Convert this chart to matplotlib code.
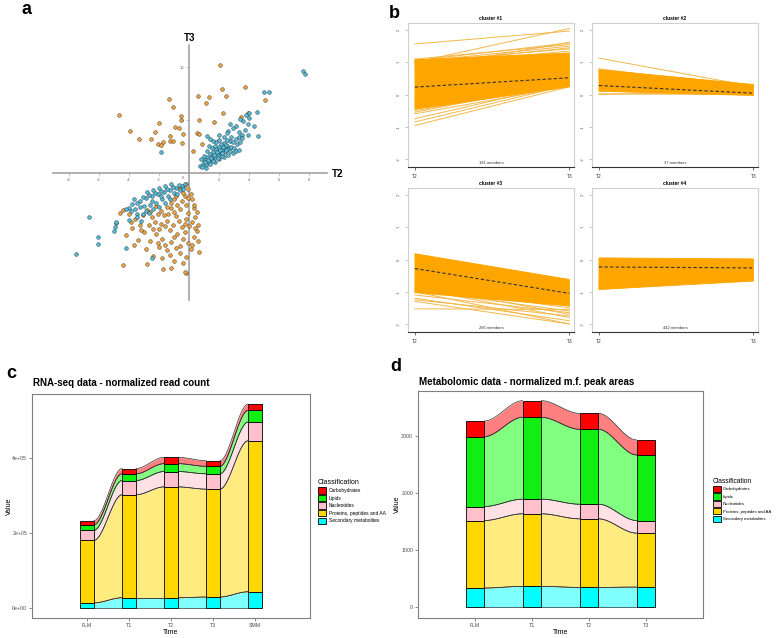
import numpy as np
import matplotlib
matplotlib.use('Agg')
import matplotlib.pyplot as plt
from matplotlib.patches import Patch

plt.rcParams['font.family'] = ['Liberation Sans', 'DejaVu Sans']

# ---------------- Panel a data (T2 vs T3) ----------------
a_orange = [
    (2.09, 10.25), (2.22, 7.9), (3.76, 8.1), (0.62, 7.3), (1.31, 7.2), (2.49, 7.3), (1.11, 6.6),
    (-1.36, 7.0), (-1.07, 6.2), (-4.69, 5.5), (-3.91, 4.0), (-3.33, 3.2), (-2.24, 3.9), (-1.98, 4.7),
    (-0.56, 5.4), (-0.51, 5.0), (-0.96, 4.35), (-0.67, 4.3), (-0.4, 3.7), (-1.24, 3.5), (-1.29, 3.0),
    (-1.07, 3.0), (-1.73, 2.97), (-2.07, 2.74), (-1.84, 2.65), (-2.56, 3.2), (-0.49, 2.84), (0.64, 5.0),
    (0.56, 3.8), (0.67, 3.7), (0.27, 2.05), (0.87, 2.74), (1.64, 4.86), (2.27, 5.68), (5.07, 6.88),
    (3.96, 5.68), (3.47, 5.3),
    (-0.2, -1.0), (-0.1, -1.5), (0.1, -2.0), (0.2, -2.5), (-0.3, -2.2), (-0.5, -2.6), (-0.2, -3.0),
    (0.3, -3.3), (0.5, -3.7), (0.4, -4.2), (0.2, -4.6), (0.6, -4.9), (0.5, -5.5), (0.3, -6.0),
    (0.6, -6.4), (0.2, -6.8), (0.64, -7.5), (0.1, -7.2), (-0.6, -3.4), (-0.8, -3.0), (-1.0, -3.7),
    (-1.2, -3.3), (-0.9, -4.1), (-0.7, -4.5), (-1.1, -4.9), (-0.5, -5.1), (-0.3, -5.6), (-0.8, -5.8),
    (-1.3, -5.4), (-1.5, -4.5), (-1.7, -4.0), (-1.9, -3.6), (-2.1, -3.9), (-1.4, -3.9), (-1.6, -5.0),
    (-2.0, -5.3), (-2.3, -4.6), (-2.5, -4.2), (-2.7, -4.9), (-2.2, -5.8), (-1.8, -6.2), (-1.2, -6.5),
    (-0.6, -6.9), (-0.4, -6.2), (-0.9, -7.1), (-1.5, -7.3), (-2.0, -7.0), (-2.6, -6.4), (-3.0, -5.6),
    (-3.3, -4.9), (-3.6, -4.3), (-3.8, -5.2), (-4.2, -5.9), (-3.4, -6.3), (-2.9, -7.2), (-2.4, -7.8),
    (-1.8, -8.0), (-1.0, -8.3), (-0.4, -8.5), (-0.18, -9.46), (-0.3, -9.4), (-1.2, -9.0), (-1.73, -9.05),
    (-4.42, -8.68), (-2.8, -8.6), (-3.7, -6.8), (-0.2, -7.9), (-1.0, -2.5), (-0.4, -1.9), (-1.5, -3.2),
    (-2.8, -3.5), (-3.1, -4.0), (-4.0, -3.9), (-4.4, -3.5), (-4.6, -3.8), (-3.9, -4.6), (-2.2, -3.1),
    (-0.7, -1.4), (-0.1, -3.8), (-0.2, -4.3), (0.0, -5.0), (-0.1, -6.6), (-1.3, -7.7), (-2.1, -6.6),
    (-0.35, -1.2), (-0.9, -2.2), (-1.2, -2.8), (-0.3, -4.8), (0.4, -5.2), (-0.6, -7.6), (-1.9, -4.8),
    (-2.4, -5.3), (-1.0, -6.0), (0.35, -3.0), (-0.05, -2.4), (-1.6, -6.8), (-3.2, -5.4), (-2.6, -3.7),
]
a_blue = [
    (0.7, 0.7), (0.9, 0.9), (1.0, 1.2), (1.1, 0.8), (1.2, 1.5), (1.3, 1.0), (1.4, 1.8), (1.5, 1.3),
    (1.6, 2.0), (1.7, 1.5), (1.8, 2.3), (1.9, 1.7), (2.0, 2.5), (2.1, 1.9), (2.2, 2.2), (2.3, 2.8),
    (2.4, 2.0), (2.5, 2.6), (2.6, 2.3), (2.7, 3.0), (2.8, 2.5), (2.9, 2.9), (3.0, 2.4), (3.1, 3.2),
    (3.2, 2.7), (3.3, 3.4), (3.4, 2.9), (1.0, 1.6), (1.2, 2.1), (1.5, 2.4), (1.8, 2.9), (2.0, 3.1),
    (2.3, 3.4), (1.3, 2.6), (1.6, 3.0), (1.1, 0.5), (1.4, 0.9), (1.7, 1.0), (2.0, 1.3), (2.3, 1.5),
    (2.6, 1.7), (2.9, 1.9), (3.1, 2.1), (3.3, 2.2), (0.8, 1.3), (1.9, 2.0), (2.2, 1.6), (2.5, 3.1),
    (2.7, 2.1), (1.5, 1.6), (1.7, 2.6), (2.1, 2.7), (2.4, 2.4), (2.8, 3.4), (3.5, 3.6), (3.7, 4.1),
    (3.9, 4.6), (4.0, 5.2), (3.6, 4.9), (3.4, 5.1), (3.1, 4.4), (2.9, 4.3), (2.7, 4.6), (2.6, 4.0),
    (2.5, 3.8), (3.3, 3.9), (4.3, 4.4), (4.6, 3.5), (3.9, 3.6), (3.5, 3.3), (4.5, 5.8), (4.0, 5.7),
    (3.8, 5.5), (5.0, 7.7), (5.3, 7.7), (7.6, 9.6), (7.7, 9.4), (1.2, 3.5), (2.0, 3.6), (1.4, 3.2),
    (-1.84, 1.96), (0.85, 0.6), (1.05, 1.0), (1.25, 1.25), (1.45, 1.45), (1.65, 1.7), (1.85, 1.95),
    (2.05, 2.15), (2.25, 2.45), (2.45, 2.65), (1.6, 1.15), (1.9, 1.4), (2.2, 1.85), (2.45, 2.2),
    (-0.3, -1.0), (-0.5, -1.2), (-0.7, -1.1), (-0.9, -1.4), (-1.1, -1.3), (-1.3, -1.6), (-1.5, -1.5),
    (-1.7, -1.8), (-1.9, -1.7), (-2.1, -2.0), (-2.3, -1.9), (-2.5, -2.2), (-2.7, -2.1), (-2.9, -2.4),
    (-3.1, -2.3), (-3.3, -2.6), (-3.5, -2.8), (-3.7, -2.5), (-0.6, -1.6), (-1.0, -1.9), (-1.4, -2.2),
    (-1.8, -2.5), (-2.2, -2.8), (-2.6, -3.0), (-3.0, -3.1), (-1.2, -1.0), (-1.6, -1.2), (-2.0, -1.4),
    (-2.4, -1.6), (-2.8, -1.8), (-0.8, -2.0), (-1.6, -2.8), (-2.0, -3.2), (-2.4, -3.4), (-2.9, -3.6),
    (-3.3, -3.2), (-3.6, -3.4), (-3.9, -3.6), (-4.0, -3.3), (-3.5, -3.9), (-3.1, -3.9), (-2.7, -3.8),
    (-1.3, -2.5), (-0.4, -1.5), (-1.9, -2.2), (-2.5, -2.6), (-3.8, -2.9), (-4.2, -3.4), (-4.0, -4.4),
    (-4.9, -4.7), (-4.95, -5.1), (-5.0, -5.5), (-4.85, -4.6), (-6.64, -4.13), (-6.07, -6.0),
    (-6.09, -6.75), (-7.53, -7.67), (-4.18, -7.07), (-2.47, -8.0), (-3.5, -4.2), (-3.2, -4.5),
]
a_xticks = [-8, -6, -4, -2, 2, 4, 6, 8]
a_yticks = [5, 10]

# ---------------- Panel b data (clusters, T2 -> T3) ----------------
b_titles = ['cluster #1', 'cluster #2', 'cluster #3', 'cluster #4']
b_members = ['181 members', '37 members', '286 members', '442 members']
b_yticks = [-2, -1, 0, 1, 2]
b_xlabels = ['T2', 'T3']
# dense band: (T2 low, T2 high, T3 low, T3 high)
c1_band = [-0.46, 1.08, 0.24, 1.29]
c2_band = [0.10, 0.77, -0.03, 0.31]
c3_band = [-1.03, 0.18, -1.44, -0.62]
c4_band = [-0.93, 0.05, -0.67, 0.02]
c1_start = [1.57, 1.00, 1.05, 1.10, 0.95, 1.02, -0.96, -0.85, -0.75, -0.60, -0.55, -0.50, 0.90, 1.00, 0.80, -0.30]
c1_end = [1.97, 2.05, 1.60, 1.55, 1.45, 1.50, 0.24, 0.30, 0.35, 0.26, 0.40, 0.30, 1.35, 1.42, 1.62, 0.28]
c2_start = [1.13, 0.80, 0.75, 0.00, 0.02, 0.60, 0.70]
c2_end = [0.25, 0.20, 0.30, 0.10, 0.00, 0.28, 0.05]
c3_start = [-1.53, -1.25, -1.30, -1.20, -1.10, -0.90, -0.85, -0.95, -1.00, -0.80, -0.70]
c3_end = [-1.55, -1.75, -2.00, -1.90, -1.65, -1.80, -1.50, -1.60, -2.00, -1.70, -1.45]
c4_start = [-0.93, -0.80, -0.75, 0.00, -0.70, -0.85]
c4_end = [-0.60, -0.65, -0.62, 0.00, -0.55, -0.50]
c1_mean = [0.23, 0.52]
c2_mean = [0.28, 0.04]
c3_mean = [-0.28, -1.05]
c4_mean = [-0.23, -0.26]

# ---------------- Panels c & d data ----------------
classes = ['Carbohydrates', 'Lipids', 'Nucleotides', 'Proteins, peptides and AA', 'Secondary metabolites']
rna_times = ['FLM', 'T1', 'T2', 'T3', 'SMM']
rna_secondary = [13300, 27000, 27000, 29000, 43000]
rna_proteins = [166700, 275000, 296000, 288000, 403000]
rna_nucleotides = [27000, 38000, 41000, 41000, 50000]
rna_lipids = [15000, 18000, 21000, 20000, 31000]
rna_carbs = [11000, 14000, 17000, 15000, 17000]
rna_yticks = [0, 200000, 400000]
rna_yticklabels = ['0e+00', '2e+05', '4e+05']

met_times = ['FLM', 'T1', 'T2', 'T3']
met_secondary = [338, 367, 349, 355]
met_proteins = [1182, 1270, 1200, 944]
met_nucleotides = [245, 256, 256, 221]
met_lipids = [1223, 1433, 1311, 1147]
met_carbs = [274, 291, 279, 263]
met_yticks = [0, 1000, 2000, 3000]

# ---------------- styling ----------------
W, H = 784, 638
fig = plt.figure(figsize=(W / 100, H / 100), dpi=100)


def box(l, t, r, b):
    return [l / W, 1 - b / H, (r - l) / W, (b - t) / H]


# ---------- panel a ----------
ax = fig.add_axes(box(53, 45, 327, 300))
ax.set_xlim(-9.07, 9.2)
ax.set_ylim(-12.0, 12.1)
for s in ['top', 'right']:
    ax.spines[s].set_visible(False)
ax.spines['left'].set_position(('data', 0))
ax.spines['bottom'].set_position(('data', 0))
for s in ['left', 'bottom']:
    ax.spines[s].set_color('#9a9a9a')
    ax.spines[s].set_linewidth(1.1)
ax.set_xticks(a_xticks)
ax.set_xticklabels([str(v) for v in a_xticks])
ax.set_yticks(a_yticks)
ax.set_yticklabels([str(v) for v in a_yticks])
ax.tick_params(axis='both', length=2, width=0.4, color='#9a9a9a', labelsize=3, labelcolor='#666666', pad=1.5)
ax.text(-0.3, -0.3, '0', fontsize=3, color='#666666', ha='right', va='top')
ao = np.array(a_orange).T
ab = np.array(a_blue).T
ax.scatter(ao[0], ao[1], s=7, c='#EFA443', edgecolors='#4a3a20', linewidths=0.35, zorder=3)
ax.scatter(ab[0], ab[1], s=7, c='#58BCD8', edgecolors='#1f3d4a', linewidths=0.35, zorder=4)
fig.text(190 / W, 1 - 38 / H, 'T3', fontsize=7, fontweight='bold', ha='center', va='center')
fig.text(338 / W, 1 - 174 / H, 'T2', fontsize=7, fontweight='bold', ha='center', va='center')

# ---------- panel b ----------
b_boxes = [(408, 23, 574, 167), (592, 23, 758, 167), (408, 188, 574, 332), (592, 188, 758, 332)]
bands = [c1_band, c2_band, c3_band, c4_band]
starts = [c1_start, c2_start, c3_start, c4_start]
ends = [c1_end, c2_end, c3_end, c4_end]
means = [c1_mean, c2_mean, c3_mean, c4_mean]
for i in range(4):
    ax = fig.add_axes(box(*b_boxes[i]))
    ax.set_xlim(-0.045, 1.03)
    ax.set_ylim(-2.25, 2.22)
    bd = bands[i]
    ax.fill([0, 1, 1, 0], [bd[0], bd[2], bd[3], bd[1]], color='#FFA500', lw=0.6, ec='#FFA500', zorder=2)
    for s0, e0 in zip(starts[i], ends[i]):
        ax.plot([0, 1], [s0, e0], color='#F3B74A', lw=0.7, zorder=1)
    ax.plot([0, 1], means[i], color='#333333', lw=0.8, ls=(0, (3, 2)), zorder=3)
    for s in ['top', 'left', 'right']:
        ax.spines[s].set_color('#d0d0d0')
        ax.spines[s].set_linewidth(0.8)
    ax.spines['bottom'].set_color('#333333')
    ax.spines['bottom'].set_linewidth(0.8)
    ax.set_xticks([0, 1])
    ax.set_xticklabels(b_xlabels)
    ax.set_yticks(b_yticks)
    ax.set_yticklabels([str(v) for v in b_yticks], rotation=90, va='center')
    ax.tick_params(axis='y', length=2, width=0.4, color='#999999', labelsize=3, labelcolor='#555555', pad=3)
    ax.tick_params(axis='x', length=2, width=0.5, color='#333333', labelsize=3.5, labelcolor='#333333', pad=3)
    ax.set_title(b_titles[i], fontsize=3.5, fontweight='bold', pad=2)
    ax.text(0.5, 0.015, b_members[i], transform=ax.transAxes, ha='center', va='bottom', fontsize=3, color='#333333')

# ---------- panels c and d ----------
colors = ['#FF0000', '#11EE11', '#FFC0CB', '#FFD700', '#00FFFF']
light = ['#FF8080', '#80FF80', '#FFE0E5', '#FFEB80', '#80FFFF']


def alluvial(ax, times, layers, width):
    # layers: bottom -> top
    x = np.arange(1, len(times) + 1)
    vals = np.array(layers, dtype=float)
    tops = np.cumsum(vals, axis=0)
    bots = tops - vals
    cidx = [4, 3, 2, 1, 0]
    t = np.linspace(0, 1, 60)
    sm = t * t * (3 - 2 * t)
    for i in range(len(x) - 1):
        x0 = x[i] + width / 2
        x1 = x[i + 1] - width / 2
        xx = x0 + (x1 - x0) * t
        for k in range(vals.shape[0]):
            lo = bots[k, i] + (bots[k, i + 1] - bots[k, i]) * sm
            hi = tops[k, i] + (tops[k, i + 1] - tops[k, i]) * sm
            ax.fill_between(xx, lo, hi, color=light[cidx[k]], lw=0, zorder=1)
            ax.plot(xx, lo, color='#333333', lw=0.5, zorder=2)
            ax.plot(xx, hi, color='#333333', lw=0.5, zorder=2)
    for k in range(vals.shape[0]):
        ax.bar(x, vals[k], bottom=bots[k], width=width, color=colors[cidx[k]], edgecolor='black',
               linewidth=0.6, zorder=3)
    ax.set_xticks(x)
    ax.set_xticklabels(times)


def style_gg(ax, ylab_x):
    for s in ax.spines.values():
        s.set_color('#7f7f7f')
        s.set_linewidth(0.8)
    ax.tick_params(axis='both', length=2, width=0.4, color='#333333', labelsize=3.8, labelcolor='#4d4d4d', pad=1.5)
    ax.set_xlabel('Time', fontsize=5, labelpad=0.5)
    ax.set_ylabel('Value', fontsize=5)
    ax.yaxis.set_label_coords(ylab_x, 0.5)


handles = [Patch(facecolor=colors[i], edgecolor='black', linewidth=0.6, label=classes[i]) for i in range(5)]
leg_c = dict(title='Classification', loc='upper left', frameon=False, fontsize=3.5, title_fontsize=5.0,
             handlelength=1.65, handleheight=1.65, labelspacing=0.25, handletextpad=0.55,
             borderaxespad=0, alignment='left')
leg_d = dict(title='Classification', loc='upper left', frameon=False, fontsize=3.1, title_fontsize=4.8,
             handlelength=1.85, handleheight=1.85, labelspacing=0.28, handletextpad=0.55,
             borderaxespad=0, alignment='left')

axc = fig.add_axes(box(32, 394, 310, 618))
alluvial(axc, rna_times, [rna_secondary, rna_proteins, rna_nucleotides, rna_lipids, rna_carbs], 0.33)
axc.set_xlim(-0.31, 6.31)
axc.set_ylim(-27000, 571000)
axc.set_yticks(rna_yticks)
axc.set_yticklabels(rna_yticklabels)
style_gg(axc, -0.07)
fig.text(33 / W, 1 - 383 / H, 'RNA-seq data - normalized read count', fontsize=7, fontweight='bold', va='center')
fig.legend(handles=handles, bbox_to_anchor=(316 / W, 1 - 477 / H), **leg_c)

axd = fig.add_axes(box(418, 391, 703, 618))
alluvial(axd, met_times, [met_secondary, met_proteins, met_nucleotides, met_lipids, met_carbs], 0.33)
axd.set_xlim(0.0, 5.0)
axd.set_ylim(-186, 3786)
axd.set_yticks(met_yticks)
axd.set_yticklabels([str(v) for v in met_yticks])
style_gg(axd, -0.06)
fig.text(419 / W, 1 - 382 / H, 'Metabolomic data - normalized m.f. peak areas', fontsize=7, fontweight='bold', va='center')
fig.legend(handles=handles, bbox_to_anchor=(711 / W, 1 - 476 / H), **leg_d)

# panel letters
fig.text(27 / W, 1 - 9 / H, 'a', fontsize=13, fontweight='bold', ha='center', va='center')
fig.text(394 / W, 1 - 13 / H, 'b', fontsize=13, fontweight='bold', ha='center', va='center')
fig.text(11 / W, 1 - 373 / H, 'c', fontsize=13, fontweight='bold', ha='center', va='center')
fig.text(396 / W, 1 - 367 / H, 'd', fontsize=13, fontweight='bold', ha='center', va='center')

fig.savefig('out.png', dpi=100)
